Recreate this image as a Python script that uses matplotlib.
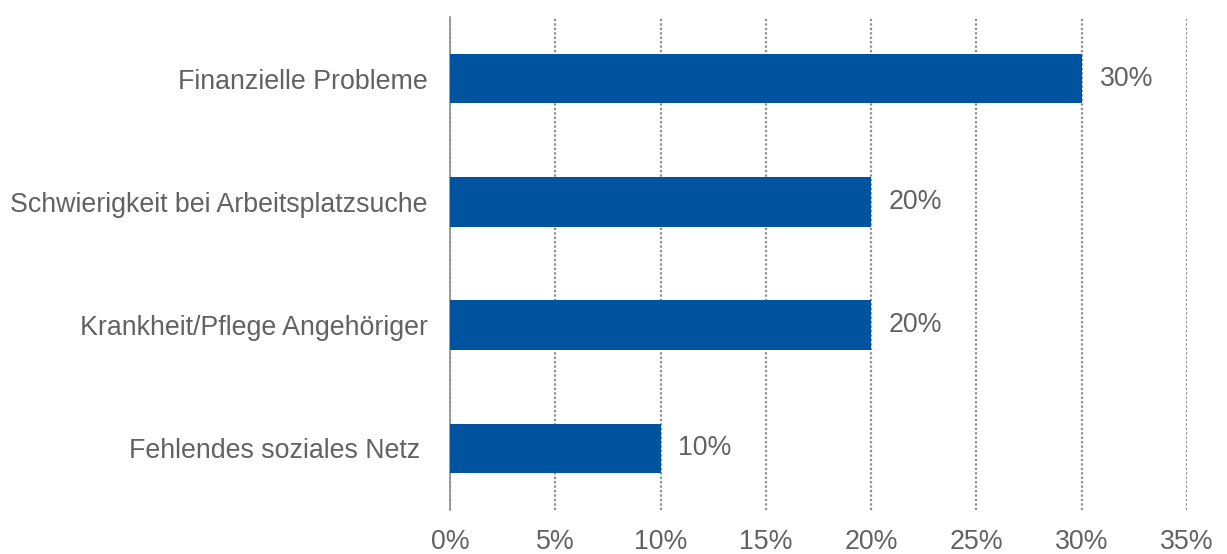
import matplotlib

matplotlib.use("Agg")

import matplotlib.pyplot as plt
from matplotlib.ticker import FuncFormatter, MultipleLocator

categories = [
    "Finanzielle Probleme",
    "Schwierigkeit bei Arbeitsplatzsuche",
    "Krankheit/Pflege Angehöriger",
    "Fehlendes soziales Netz ",
]
values = [30, 20, 20, 10]

BAR_COLOR = "#00539F"
TEXT_COLOR = "#626262"
GRID_COLOR = "#8E8E8E"

plt.rcParams["font.family"] = ["Liberation Sans", "DejaVu Sans"]

fig = plt.figure(figsize=(12.27, 5.54), dpi=100)
ax = fig.add_axes([0.3667, 0.0794, 0.6007, 0.8899])

ypos = list(range(len(categories)))
ax.barh(ypos, values, height=0.4, color=BAR_COLOR, zorder=3)

for y, v in zip(ypos, values):
    ax.text(v + 0.85, y, f"{v}%", va="center", ha="left", fontsize=19.3, color=TEXT_COLOR)

ax.set_xlim(0, 35)
ax.set_ylim(len(categories) - 0.5, -0.5)
ax.set_yticks(ypos)
ax.set_yticklabels(categories)
ax.xaxis.set_major_locator(MultipleLocator(5))
ax.xaxis.set_major_formatter(FuncFormatter(lambda x, _: f"{x:.0f}%"))

ax.tick_params(axis="both", length=0, labelsize=19.3, colors=TEXT_COLOR)
ax.tick_params(axis="x", pad=14)
ax.tick_params(axis="y", pad=16)

ax.grid(axis="x", color=GRID_COLOR, linestyle=(0, (1, 1)), linewidth=1.6, zorder=0)
ax.yaxis.grid(False)

for side in ["top", "right", "bottom"]:
    ax.spines[side].set_visible(False)
ax.spines["left"].set_color("#8C8C8C")
ax.spines["left"].set_linewidth(1.2)

fig.savefig("out.png", dpi=100)
